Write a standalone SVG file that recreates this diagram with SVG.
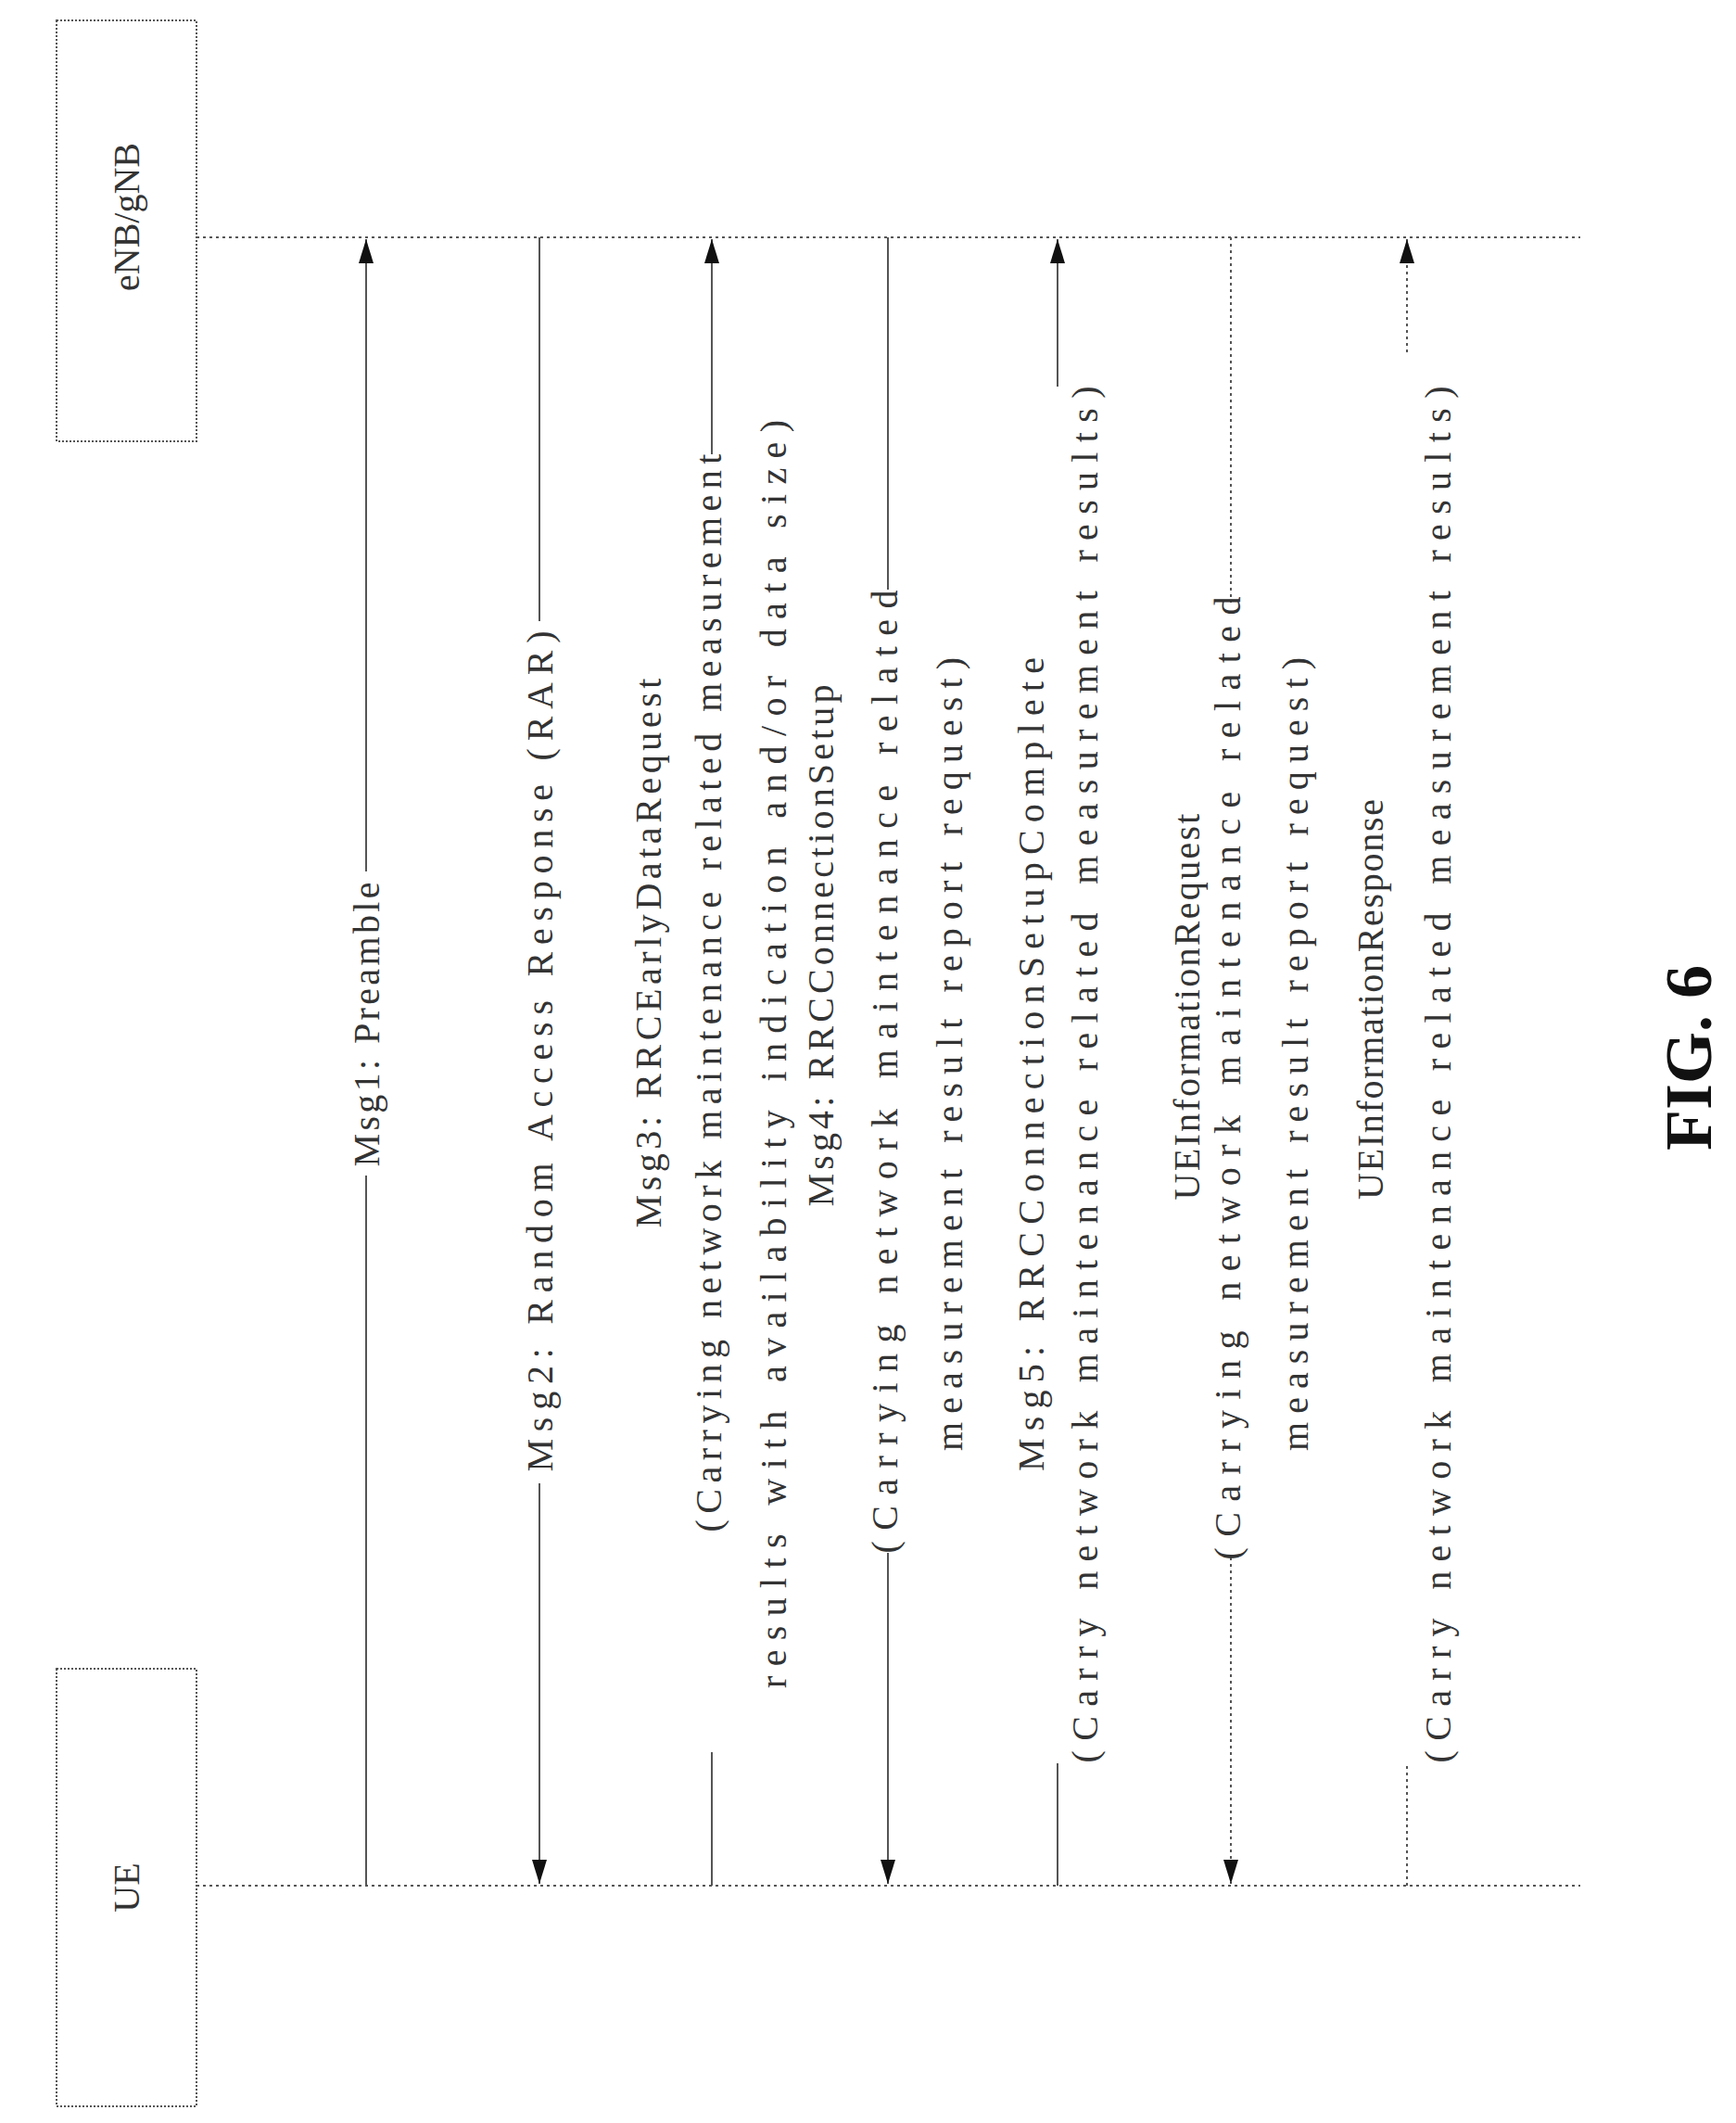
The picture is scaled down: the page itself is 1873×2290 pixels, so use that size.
<svg xmlns="http://www.w3.org/2000/svg" width="1873" height="2290" viewBox="0 0 1873 2290">
<style>
.l{stroke:#555;stroke-width:2;fill:none}
.d{stroke:#555;stroke-width:2;fill:none;stroke-dasharray:3 4}
.t{font-family:"Liberation Serif",serif;font-size:40px;fill:#333;text-anchor:middle}
.b{fill:#fff;stroke:#555;stroke-width:2;stroke-dasharray:2 2}
</style>
<defs>
<marker id="h" viewBox="-26 -9 26 18" refX="0" refY="0" markerWidth="26" markerHeight="18" markerUnits="userSpaceOnUse" orient="auto"><path d="M-26,-8 L0,0 L-26,8 Z" fill="#111"/></marker></defs>
<g id="enb"><rect class="b" x="61" y="22" width="151" height="454"/><text class="t" transform="translate(150,234) rotate(-90)">eNB/gNB</text></g>
<g id="ue"><rect class="b" x="61" y="1800" width="151" height="472"/><text class="t" transform="translate(150,2036) rotate(-90)">UE</text></g>
<g id="connectors">
<line class="d" x1="212" y1="256" x2="1705" y2="256"/>
<line class="d" x1="212" y1="2034" x2="1705" y2="2034"/>
<line class="l" x1="395" y1="2034" x2="395" y2="1268"/><line class="l" x1="395" y1="940" x2="395" y2="258" marker-end="url(#h)"/>
<line class="l" x1="582" y1="256" x2="582" y2="670"/><line class="l" x1="582" y1="1600" x2="582" y2="2032" marker-end="url(#h)"/>
<line class="l" x1="768" y1="2034" x2="768" y2="1890"/><line class="l" x1="768" y1="490" x2="768" y2="258" marker-end="url(#h)"/>
<line class="l" x1="958" y1="256" x2="958" y2="636"/><line class="l" x1="958" y1="1675" x2="958" y2="2032" marker-end="url(#h)"/>
<line class="l" x1="1141" y1="2034" x2="1141" y2="1902"/><line class="l" x1="1141" y1="417" x2="1141" y2="258" marker-end="url(#h)"/>
<line class="d" x1="1328" y1="256" x2="1328" y2="650"/><line class="d" x1="1328" y1="1680" x2="1328" y2="2032" marker-end="url(#h)"/>
<line class="d" x1="1518" y1="2034" x2="1518" y2="1902"/><line class="d" x1="1518" y1="380" x2="1518" y2="258" marker-end="url(#h)"/>
</g>
<g id="msg1"><text class="t" textLength="307" lengthAdjust="spacing" transform="translate(409,1105) rotate(-90)">Msg1:  Preamble</text></g>
<g id="msg2"><text class="t" textLength="907" lengthAdjust="spacing" transform="translate(596,1134) rotate(-90)">Msg2:  Random Access Response (RAR)</text></g>
<g id="msg3">
<text class="t" textLength="593" lengthAdjust="spacing" transform="translate(713,1028) rotate(-90)">Msg3:  RRCEarlyDataRequest</text>
<text class="t" textLength="1163" lengthAdjust="spacing" transform="translate(778,1071) rotate(-90)">(Carrying network maintenance related measurement</text>
<text class="t" textLength="1368" lengthAdjust="spacing" transform="translate(848,1137) rotate(-90)">results with availability indication and/or data size)</text>
</g>
<g id="msg4">
<text class="t" textLength="563" lengthAdjust="spacing" transform="translate(899,1020) rotate(-90)">Msg4:  RRCConnectionSetup</text>
<text class="t" textLength="1039" lengthAdjust="spacing" transform="translate(968,1156) rotate(-90)">(Carrying network maintenance related</text>
<text class="t" textLength="856" lengthAdjust="spacing" transform="translate(1038,1137) rotate(-90)">measurement result report request)</text>
</g>
<g id="msg5">
<text class="t" textLength="878" lengthAdjust="spacing" transform="translate(1126,1148) rotate(-90)">Msg5:  RRCConnectionSetupComplete</text>
<text class="t" textLength="1485" lengthAdjust="spacing" transform="translate(1184,1159) rotate(-90)">(Carry network maintenance related measurement results)</text>
</g>
<g id="uereq">
<text class="t" textLength="417" lengthAdjust="spacing" transform="translate(1294,1086) rotate(-90)">UEInformationRequest</text>
<text class="t" textLength="1039" lengthAdjust="spacing" transform="translate(1338,1163) rotate(-90)">(Carrying network maintenance related</text>
<text class="t" textLength="856" lengthAdjust="spacing" transform="translate(1411,1137) rotate(-90)">measurement result report request)</text>
</g>
<g id="ueresp">
<text class="t" textLength="432" lengthAdjust="spacing" transform="translate(1492,1078) rotate(-90)">UEInformationResponse</text>
<text class="t" textLength="1485" lengthAdjust="spacing" transform="translate(1565,1159) rotate(-90)">(Carry network maintenance related measurement results)</text>
</g>
<g id="fig"><text transform="translate(1846,1141) rotate(-90)" style="font-family:'Liberation Serif',serif;font-weight:bold;font-size:72px;text-anchor:middle;fill:#111">FIG. 6</text></g>
</svg>
